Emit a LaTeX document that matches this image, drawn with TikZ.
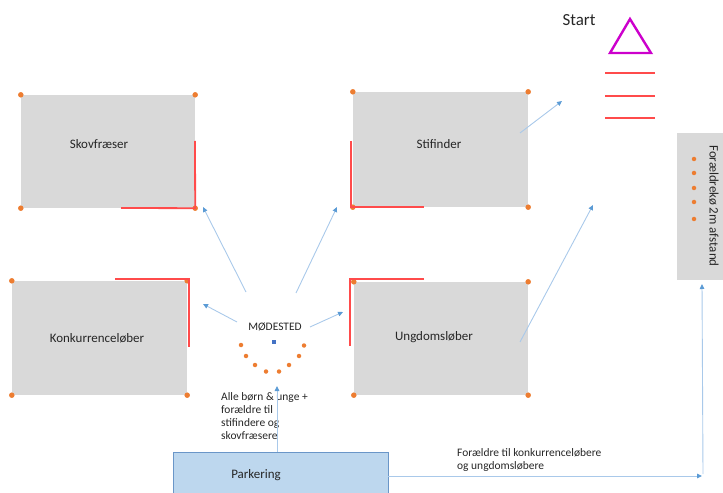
\documentclass[tikz,border=0pt]{standalone}
\usepackage{fontspec}
\setmainfont{Carlito}
\usetikzlibrary{arrows.meta}
\definecolor{boxgray}{HTML}{D9D9D9}
\definecolor{dotor}{HTML}{ED7D31}
\definecolor{redl}{HTML}{FF4B4B}
\definecolor{arrl}{HTML}{A9C9EA}
\definecolor{arrh}{HTML}{5B9BD5}
\definecolor{parkfill}{HTML}{BDD7EE}
\definecolor{parkdraw}{HTML}{6A96C8}
\definecolor{magen}{HTML}{CC00CC}
\definecolor{txt}{HTML}{262626}
\definecolor{sqblue}{HTML}{4472C4}
\begin{document}
\begin{tikzpicture}[x=1bp,y=-1bp,
  area/.style={fill=boxgray, draw=none, inner sep=0pt},
  lbl/.style={text=txt, font=\fontsize{13}{15}\selectfont, inner sep=0pt},
  small/.style={text=txt, font=\fontsize{11.5}{13.3}\selectfont, inner sep=0pt, align=left},
  redmark/.style={draw=redl, line width=1.8bp},
  conn/.style={draw=arrl, line width=0.9bp, -{Triangle[length=5bp,width=4.5bp,color=arrh]}},
  dot/.style={circle, fill=dotor, inner sep=0pt, minimum size=5.5bp},
  sdot/.style={circle, fill=dotor, inner sep=0pt, minimum size=4.5bp}]
\useasboundingbox (0,0) rectangle (723,493);
\clip (0,0) rectangle (723,493);

% boxes
\node[area, minimum width=174bp, minimum height=113bp] (skov) at (108,151.5) {};
\node[area, minimum width=175bp, minimum height=115bp] (stif) at (440.5,149.5) {};
\node[area, minimum width=175bp, minimum height=114bp] (konk) at (99.5,338) {};
\node[area, minimum width=174bp, minimum height=113bp] (ungd) at (441,338.5) {};
\node[area, minimum width=60bp, minimum height=147bp] (foraeld) at (707,206.5) {};
\node[fill=parkfill, draw=parkdraw, line width=0.8bp, inner sep=0pt, minimum width=215bp, minimum height=60bp] (park) at (280.5,482) {};

% box labels
\node[lbl] (skovT) at (99,144) {Skovfræser};
\node[lbl] (stifT) at (439,144) {Stifinder};
\node[lbl] (konkT) at (97,338) {Konkurrenceløber};
\node[lbl] (ungdT) at (434,337) {Ungdomsløber};
\node[lbl] (parkT) at (256,475) {Parkering};
\node[lbl, rotate=-90] (foraeldT) at (714,206) {Forældrekø 2m afstand};
\node[text=txt, font=\fontsize{17}{20}\selectfont, inner sep=0pt] (start) at (579,20) {Start};

% corner dots
\foreach \b in {skov,stif,konk,ungd}{
  \foreach \c in {north west,north east,south west,south east}{
    \node[dot] at (\b.\c) {};
  }
}

% red marks
\draw[redmark] (195,141) -- (skov.south east) -- (121,208);
\draw[redmark] (351,141) -- (351,207) -- (424,207);
\draw[redmark] (115,279) -- (189,279) -- (189,347);
\draw[redmark] (424,279) -- (350,279) -- (350,346);

% start triangle and lines
\draw[magen, line width=2.4bp, line join=miter] (630,19) -- (651,53) -- (610,53) -- cycle;
\foreach \yy in {73,96,118}{
  \draw[redl, line width=1.5bp] (605,\yy) -- (655,\yy);
}

% queue dots
\foreach \yy in {159,173,188,202,219}{
  \node[sdot] at (694,\yy) {};
}

% meeting place
\node[text=txt, font=\fontsize{11.5}{13}\selectfont, inner sep=0pt] (mod) at (275,327) {MØDESTED};
\node[fill=sqblue, inner sep=0pt, minimum size=4.5bp] (modsq) at (274,342) {};
\foreach \px/\py in {241/345,246/356,255/365,266/371.5,279/371.5,289/365,299/356,304/345.5}{
  \node[sdot] at (\px,\py) {};
}

\node[small, anchor=north west] (alle) at (221,392) {Alle børn \& unge +\\forældre til\\stifindere og\\skovfræsere};
\node[small, anchor=north west] (foraeldretxt) at (457,448) {Forældre til konkurrenceløbere\\og ungdomsløbere};

% connector coordinates
\coordinate (m1) at (246,292);
\coordinate (m1e) at (203,207);
\coordinate (m2) at (296,293);
\coordinate (m2e) at (337,207);
\coordinate (m3) at (237,322);
\coordinate (m3e) at (203,304);
\coordinate (m4) at (310,327);
\coordinate (m4e) at (343,312);
\coordinate (pk) at (277,452);
\coordinate (pke) at (277,386);
\coordinate (s1) at (520,133);
\coordinate (s1e) at (562,101);
\coordinate (u1) at (520,342);
\coordinate (u1e) at (593,205);
\coordinate (pr) at (702,476);
\coordinate (qb) at (703,474);
\coordinate (qe) at (702,284);

\draw[conn] (m1) -- (m1e);
\draw[conn] (m2) -- (m2e);
\draw[conn] (m3) -- (m3e);
\draw[conn] (m4) -- (m4e);
\draw[conn] (pk) -- (pke);
\draw[conn] (s1) -- (s1e);
\draw[conn] (u1) -- (u1e);
\draw[conn] (park.east |- pr) -- (pr);
\draw[conn] (qb) -- (qe);
\end{tikzpicture}
\end{document}
